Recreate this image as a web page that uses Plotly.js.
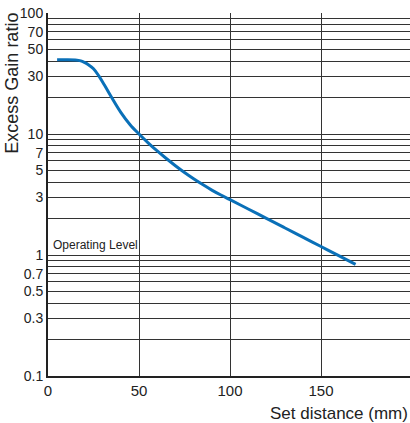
<!DOCTYPE html>
<html>
<head>
<meta charset="utf-8">
<script src="https://cdn.plot.ly/plotly-3.0.1.min.js"></script>
<style>
html,body{margin:0;padding:0;overflow:hidden;background:#fff;}
#chart{width:412px;height:423px;}
</style>
</head>
<body>
<div id="chart"></div>
<script>
// Set distance (mm)
const distance = [5, 10, 15, 18, 20, 22, 25, 28, 31, 35, 40, 45, 50, 55, 60, 65, 70, 75, 80, 85, 90, 95, 100, 110, 120, 130, 140, 150, 160, 169];
// Excess gain ratio
const gain = [41.0, 41.0, 40.8, 40.2, 39.1, 37.6, 34.6, 30.1, 25.4, 20.0, 15.1, 12.0, 10.0, 8.46, 7.24, 6.27, 5.47, 4.81, 4.27, 3.82, 3.44, 3.13, 2.87, 2.40, 2.01, 1.68, 1.405, 1.175, 0.983, 0.836];

const yGridVals = [0.1, 0.2, 0.3, 0.4, 0.5, 0.6, 0.7, 0.8, 0.9, 1, 2, 3, 4, 5, 6, 7, 8, 9, 10, 20, 30, 40, 50, 60, 70, 80, 90, 100];
const yLabeled = ["0.1", "0.3", "0.5", "0.7", "1", "3", "5", "7", "10", "30", "50", "70", "100"];
const xTickVals = [0, 50, 100, 150, 200];
const xTickText = ["0", "50", "100", "150", "200"];

const yTickText = yGridVals.map(v => yLabeled.includes(String(v)) ? String(v) : "");

const font = "Arial, 'Liberation Sans', Helvetica, sans-serif";

const trace = {
  x: distance, y: gain, type: 'scatter', mode: 'lines',
  line: {color: '#0a70b8', width: 3, shape: 'spline', smoothing: 1},
  hoverinfo: 'skip'
};

const layout = {
  width: 412, height: 423,
  margin: {l: 48, r: 0, t: 13, b: 47},
  paper_bgcolor: '#fff', plot_bgcolor: '#fff',
  showlegend: false,
  font: {family: font, color: '#222', size: 14},
  xaxis: {
    range: [0, 200], tickmode: 'array', tickvals: xTickVals, ticktext: xTickText,
    showgrid: true, gridcolor: '#333', gridwidth: 1, zeroline: false,
    showline: true, linecolor: '#222', linewidth: 2, ticks: '',
    tickfont: {size: 15, family: font, color: '#222'}, fixedrange: true
  },
  yaxis: {
    type: 'log', range: [-1, 2], tickmode: 'array', tickvals: yGridVals, ticktext: yTickText,
    showgrid: true, gridcolor: '#333', gridwidth: 1, zeroline: false,
    showline: true, linecolor: '#222', linewidth: 2, ticks: '',
    tickfont: {size: 14, family: font, color: '#222'}, fixedrange: true
  },
  annotations: [
    {text: 'Excess Gain ratio', xref: 'paper', yref: 'paper', x: -0.099, y: 0.808,
     xanchor: 'center', yanchor: 'middle', textangle: -90, showarrow: false,
     font: {size: 18, family: font, color: '#222'}},
    {text: 'Set distance (mm)', xref: 'paper', yref: 'paper', x: 0.9945, y: -0.103,
     xanchor: 'right', yanchor: 'middle', showarrow: false,
     font: {size: 17, family: font, color: '#222'}},
    {text: 'Operating Level', xref: 'paper', yref: 'paper', x: 0.008, y: 0.362,
     xanchor: 'left', yanchor: 'middle', showarrow: false,
     font: {size: 12, family: font, color: '#222'}}
  ]
};

Plotly.newPlot('chart', [trace], layout, {displayModeBar: false, staticPlot: true});
</script>
</body>
</html>
